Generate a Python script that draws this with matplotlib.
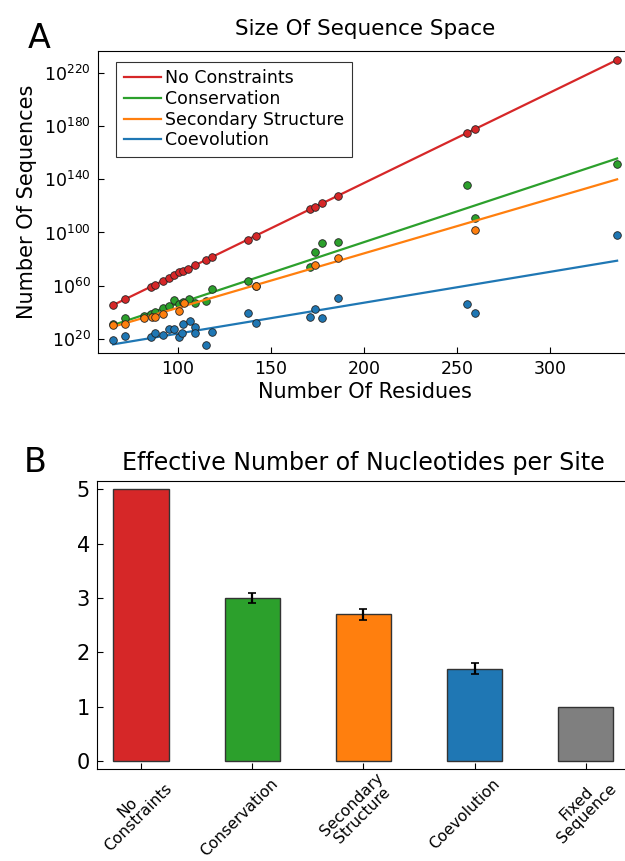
import numpy as np
import matplotlib
matplotlib.use("Agg")
import matplotlib.pyplot as plt
from matplotlib.ticker import FixedLocator, NullLocator, LogFormatterMathtext
from matplotlib.transforms import ScaledTranslation, blended_transform_factory

# panel A: log10(number of sequences) vs number of residues
nc_x = [65.3, 71.5, 85.8, 87.9, 91.9, 95.2, 98.2, 100.9, 102.7, 105.7, 109.5, 115.4,
        118.6, 137.8, 141.8, 171.2, 173.5, 177.7, 185.9, 255.5, 259.6, 336.0]
nc_y = [45.5, 50.0, 59.3, 60.5, 63.8, 65.8, 67.8, 70.0, 71.3, 72.8, 75.3, 79.3,
        81.3, 94.5, 97.5, 117.6, 119.3, 121.8, 127.3, 174.8, 177.6, 229.6]

cons_x = [65.3, 71.5, 81.7, 85.8, 87.9, 91.9, 95.2, 98.2, 100.9, 102.7, 106.2, 109.5,
          115.4, 118.6, 137.8, 141.8, 171.2, 173.5, 177.7, 185.9, 255.5, 259.6, 336.0]
cons_y = [31.0, 36.0, 37.0, 38.8, 40.5, 43.2, 44.8, 49.3, 46.5, 48.0, 50.2, 46.8,
          48.3, 57.3, 63.3, 60.0, 74.3, 85.0, 91.8, 92.8, 136.0, 110.6, 151.6]

ss_x = [65.3, 71.5, 81.7, 86.0, 88.0, 91.9, 100.9, 103.4, 141.8, 173.5, 185.9, 259.6]
ss_y = [30.5, 31.0, 36.0, 36.3, 36.7, 38.5, 41.2, 47.4, 59.5, 75.5, 81.0, 102.0]

coev_x = [65.3, 71.5, 85.8, 88.0, 91.9, 95.2, 98.2, 100.9, 102.1, 102.7, 106.5, 109.5,
          109.5, 115.4, 118.6, 137.8, 141.8, 171.2, 173.5, 177.7, 185.9, 255.5, 259.6, 336.0]
coev_y = [19.0, 22.3, 21.2, 24.8, 22.7, 27.6, 27.6, 21.7, 24.5, 31.0, 33.5, 29.0,
          24.3, 15.7, 25.4, 39.3, 32.0, 36.7, 42.3, 36.0, 51.0, 46.0, 39.7, 98.0]

# fitted lines (log10 scale): slope per residue, intercept
fit_slope = [0.680, 0.462, 0.409, 0.232]
fit_intercept = [1.1, 0.33, 2.5, 0.85]

series_names = ["No Constraints", "Conservation", "Secondary Structure", "Coevolution"]
colors = ["#d62728", "#2ca02c", "#ff7f0e", "#1f77b4"]

# panel B
bar_labels = ["No\nConstraints", "Conservation", "Secondary\nStructure", "Coevolution", "Fixed\nSequence"]
bar_values = [5.0, 3.0, 2.7, 1.7, 1.0]
bar_err = [0.0, 0.1, 0.1, 0.1, 0.0]
bar_colors = ["#d62728", "#2ca02c", "#ff7f0e", "#1f77b4", "#7f7f7f"]

W, H = 625, 861
fig = plt.figure(figsize=(W / 100, H / 100), dpi=100)

# ---- A ----
ax = fig.add_axes([97.7 / W, 1 - 353 / H, (632 - 97.7) / W, (353 - 50.7) / H])
xs = [nc_x, cons_x, ss_x, coev_x]
ys = [nc_y, cons_y, ss_y, coev_y]
xmin, xmax = min(nc_x), max(nc_x)
for i in range(4):
    lx = np.array([xmin, xmax])
    ly = fit_slope[i] * lx + fit_intercept[i]
    ax.plot(lx, 10.0 ** ly, color=colors[i], lw=1.6, label=series_names[i], zorder=2 + i)
    ax.scatter(xs[i], 10.0 ** np.array(ys[i]), s=30, color=colors[i],
               edgecolor="#222222", linewidth=0.6, zorder=2 + i)
ax.set_yscale("log")
ax.set_xlim(57, 344)
ax.set_ylim(10.0 ** 9.5, 10.0 ** 236.5)
ax.yaxis.set_major_locator(FixedLocator([10.0 ** e for e in range(20, 221, 40)]))
ax.yaxis.set_major_formatter(LogFormatterMathtext())
ax.yaxis.set_minor_locator(NullLocator())
ax.set_xticks([100, 150, 200, 250, 300])
ax.tick_params(direction="in", length=4, labelsize=12.5, pad=5)
ax.set_xlabel("Number Of Residues", fontsize=15, labelpad=3)
ax.set_ylabel("Number Of Sequences", fontsize=15, labelpad=5)
ax.set_title("Size Of Sequence Space", fontsize=15.5, pad=11)
leg = ax.legend(loc="upper left", bbox_to_anchor=(0.034, 0.964), borderaxespad=0,
                fontsize=12.5, frameon=True, fancybox=False, edgecolor="black",
                handlelength=2.15, handletextpad=0.25, borderpad=0.45, labelspacing=0.15)
leg.get_frame().set_linewidth(0.8)

# ---- B ----
bx = fig.add_axes([96.8 / W, 1 - 769.3 / H, (630.1 - 96.8) / W, (769.3 - 481) / H])
pos = np.arange(1, len(bar_values) + 1)
bx.bar(pos, bar_values, width=0.5, color=bar_colors, edgecolor="#333333", linewidth=1)
for p, v, e in zip(pos, bar_values, bar_err):
    if e > 0:
        bx.errorbar(p, v, yerr=e, fmt="none", ecolor="black", elinewidth=1.6, capsize=3, capthick=1.2)
bx.set_xlim(0.6, 5.4)
bx.set_ylim(-0.153, 5.153)
bx.set_yticks([0, 1, 2, 3, 4, 5])
bx.set_xticks(pos)
bx.set_xticklabels([])
# rotated category labels, anchored at their right end just below each tick
lab_tr = blended_transform_factory(bx.transData, bx.transAxes) + \
    ScaledTranslation(23 / 100, -12 / 100, fig.dpi_scale_trans)
for p, lab in zip(pos, bar_labels):
    bx.text(p, 0, lab, transform=lab_tr, rotation=45, ha="right", va="center",
            rotation_mode="anchor", fontsize=11.2, linespacing=1.0,
            multialignment="center", clip_on=False)
bx.tick_params(axis="x", direction="in", length=4.5, pad=0)
bx.tick_params(axis="y", direction="in", length=4.5, labelsize=15, pad=5)
bx.set_title("Effective Number of Nucleotides per Site", fontsize=17, pad=8)

fig.text(28 / W, 1 - 38 / H, "A", fontsize=24, va="center", ha="left")
fig.text(24 / W, 1 - 462 / H, "B", fontsize=24, va="center", ha="left")

fig.savefig("out.png", dpi=100)
